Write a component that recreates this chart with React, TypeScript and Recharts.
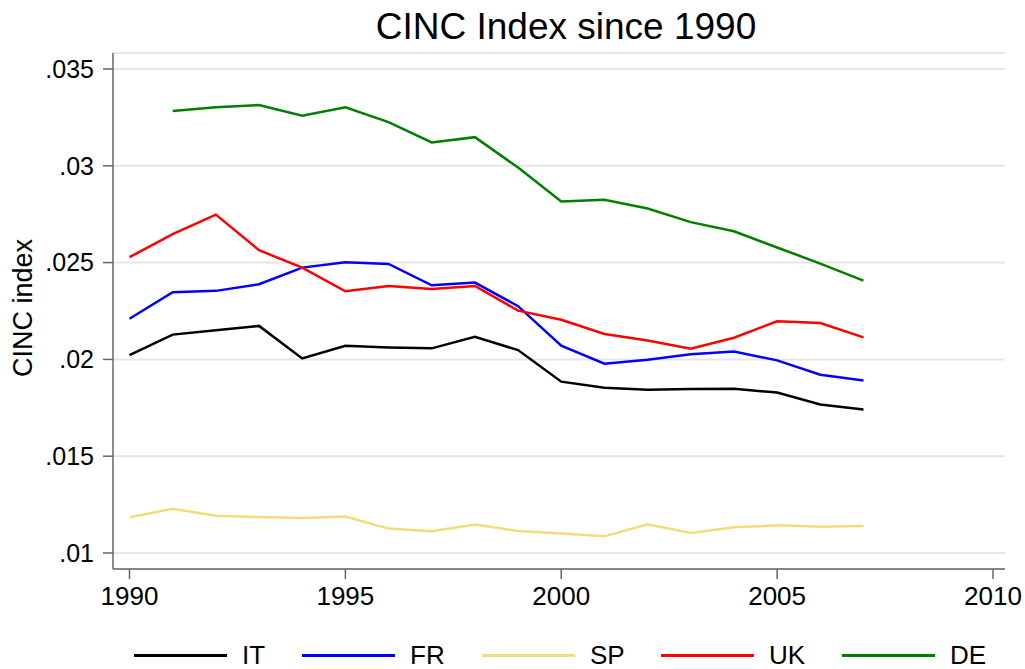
import React from 'react';
import { LineChart, Line, XAxis, YAxis, CartesianGrid, Label } from 'recharts';

const years = [1990, 1991, 1992, 1993, 1994, 1995, 1996, 1997, 1998, 1999, 2000, 2001, 2002, 2003, 2004, 2005, 2006, 2007];
const IT = [0.02022, 0.02128, 0.02151, 0.02173, 0.02005, 0.0207, 0.02062, 0.02057, 0.02117, 0.02048, 0.01885, 0.01854, 0.01843, 0.01847, 0.01848, 0.01829, 0.01767, 0.01741];
const FR = [0.0221, 0.02347, 0.02354, 0.02388, 0.02474, 0.02502, 0.02493, 0.02383, 0.02397, 0.02275, 0.02071, 0.01978, 0.01998, 0.02026, 0.02041, 0.01995, 0.01921, 0.01891];
const SP = [0.01185, 0.01228, 0.01193, 0.01186, 0.01181, 0.01188, 0.01126, 0.01112, 0.01147, 0.01114, 0.01101, 0.01086, 0.01148, 0.01104, 0.01133, 0.01143, 0.01136, 0.0114];
const UK = [0.02528, 0.02647, 0.02748, 0.02564, 0.02474, 0.02352, 0.02379, 0.02364, 0.02379, 0.02252, 0.02205, 0.02131, 0.02098, 0.02055, 0.02112, 0.02197, 0.02188, 0.02114];
const DE = [null, 0.03283, 0.03303, 0.03314, 0.03259, 0.03302, 0.03226, 0.03121, 0.03148, 0.02991, 0.02816, 0.02824, 0.02779, 0.02709, 0.02662, 0.02578, 0.02495, 0.02407];

const xTicks = [1990, 1995, 2000, 2005, 2010];
const yTicks = [0.01, 0.015, 0.02, 0.025, 0.03, 0.035];

const seriesNames = ['IT', 'FR', 'SP', 'UK', 'DE'];
const seriesColors = ['#000000', '#0000ff', '#f6dc76', '#ff0000', '#008000'];
const legendLefts = [134, 302, 482, 661, 842];

const data = years.map((year, i) => ({
  year,
  IT: IT[i],
  FR: FR[i],
  SP: SP[i],
  UK: UK[i],
  DE: DE[i],
}));

const FONT = '"Liberation Sans", Arial, Helvetica, sans-serif';

const fmtY = (v: number) => String(parseFloat(v.toFixed(3))).replace(/^0/, '');

const YLabel = (props: any) => {
  const vb = props.viewBox || {};
  const cx = 23;
  const cy = vb.y + vb.height / 2 - 3;
  return (
    <text
      x={cx}
      y={cy}
      transform={`rotate(-90, ${cx}, ${cy})`}
      textAnchor="middle"
      dominantBaseline="central"
      fontSize={27}
      fontFamily={FONT}
      fill="#000"
    >
      CINC index
    </text>
  );
};

export default function App() {
  return (
    <div style={{ position: 'absolute', left: 0, top: 0, width: 1025, height: 669, background: '#fff', fontFamily: FONT }}>
      <div
        style={{
          position: 'absolute',
          left: 566,
          top: 6,
          transform: 'translateX(-50%)',
          fontSize: 37,
          lineHeight: '42px',
          whiteSpace: 'nowrap',
          color: '#000',
        }}
      >
        CINC Index since 1990
      </div>
      <LineChart width={1025} height={669} data={data} margin={{ top: 53, right: 20, bottom: 50, left: 0 }}>
        <CartesianGrid vertical={false} stroke="#e6e6e6" strokeWidth={2} />
        <XAxis
          dataKey="year"
          type="number"
          domain={[1990, 2010]}
          ticks={xTicks}
          padding={{ left: 16.5, right: 12 }}
          height={50}
          stroke="#666"
          strokeWidth={1.5}
          tickSize={10}
          tickMargin={8}
          tick={{ fill: '#000', fontSize: 26, fontFamily: FONT }}
          tickLine={{ stroke: '#666' }}
        />
        <YAxis
          type="number"
          domain={[0.01, 0.035]}
          ticks={yTicks}
          padding={{ top: 16, bottom: 16 }}
          width={113}
          stroke="#666"
          strokeWidth={1.5}
          tickSize={10}
          tickMargin={9}
          tickFormatter={fmtY}
          tick={{ fill: '#000', fontSize: 25, fontFamily: FONT }}
          tickLine={{ stroke: '#666' }}
        >
          <Label content={YLabel} />
        </YAxis>
        {seriesNames.map((name, i) => (
          <Line
            key={name}
            dataKey={name}
            stroke={seriesColors[i]}
            strokeWidth={2.5}
            dot={false}
            activeDot={false}
            isAnimationActive={false}
            connectNulls={false}
            type="linear"
          />
        ))}
      </LineChart>
      {seriesNames.map((name, i) => (
        <div
          key={name}
          style={{
            position: 'absolute',
            left: legendLefts[i],
            top: 640,
            height: 30,
            display: 'flex',
            alignItems: 'center',
            whiteSpace: 'nowrap',
          }}
        >
          <div style={{ width: 93, height: 3, background: seriesColors[i] }} />
          <span style={{ marginLeft: 15, fontSize: 26, lineHeight: '30px', color: '#000' }}>{name}</span>
        </div>
      ))}
    </div>
  );
}
